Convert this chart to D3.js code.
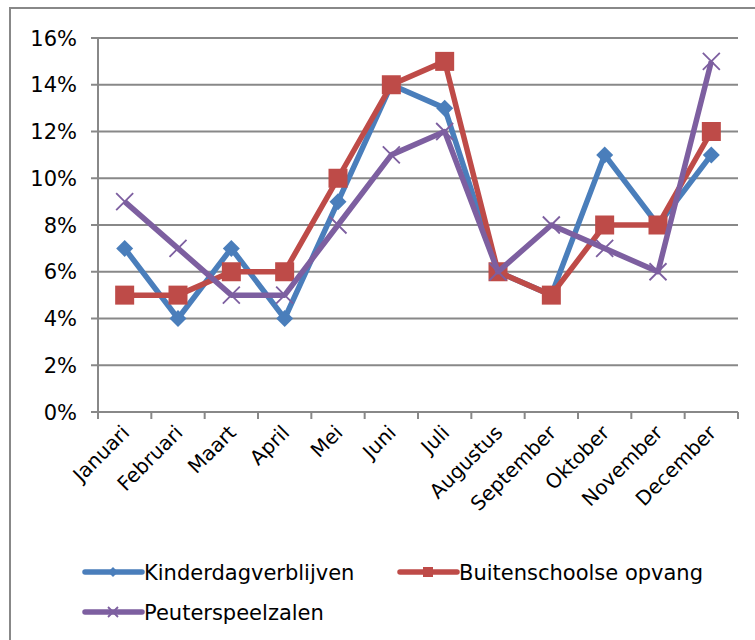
<!DOCTYPE html>
<html><head><meta charset="utf-8">
<script src="https://cdn.jsdelivr.net/npm/d3@7"></script>
<style>body{margin:0;background:#fff}svg{display:block}text{font-family:"DejaVu Sans",Verdana,sans-serif;fill:#000}</style>
</head><body>
<script>
const months = ["Januari","Februari","Maart","April","Mei","Juni","Juli","Augustus","September","Oktober","November","December"];
const kinderdag = [0.07,0.04,0.07,0.04,0.09,0.14,0.13,0.06,0.05,0.11,0.08,0.11];
const buitenschools = [0.05,0.05,0.06,0.06,0.10,0.14,0.15,0.06,0.05,0.08,0.08,0.12];
const peuters = [0.09,0.07,0.05,0.05,0.08,0.11,0.12,0.06,0.08,0.07,0.06,0.15];
const yTicks = [0,0.02,0.04,0.06,0.08,0.10,0.12,0.14,0.16];
const seriesNames = ["Kinderdagverblijven","Buitenschoolse opvang","Peuterspeelzalen"];

const series = [
  {name: seriesNames[0], values: kinderdag, color: "#4A7EBB", marker: "diamond"},
  {name: seriesNames[1], values: buitenschools, color: "#BE4B48", marker: "square"},
  {name: seriesNames[2], values: peuters, color: "#7D5FA0", marker: "x"}
];

const W = 755, H = 640;
const svg = d3.select("body").append("svg").attr("width", W).attr("height", H);
svg.append("rect").attr("x",10).attr("y",8).attr("width",760).attr("height",650)
  .attr("fill","#fff").attr("stroke","#888").attr("stroke-width",2);

const pL = 98, pR = 738, pT = 38, pB = 412;
const x = d3.scaleBand().domain(months).range([pL, pR]);
const y = d3.scaleLinear().domain([0, 0.16]).range([pB, pT]);

// gridlines
svg.append("g").selectAll("line").data(yTicks).join("line")
  .attr("x1", pL-7).attr("x2", pR).attr("y1", d=>y(d)).attr("y2", d=>y(d))
  .attr("stroke","#888").attr("stroke-width",2);
// y axis line
svg.append("line").attr("x1",pL).attr("x2",pL).attr("y1",pT).attr("y2",pB)
  .attr("stroke","#888").attr("stroke-width",2);
// y labels
svg.append("g").selectAll("text").data(yTicks).join("text")
  .attr("x", 77).attr("y", d=>y(d)).attr("dy","0.36em").attr("text-anchor","end")
  .attr("font-size",21)
  .text(d3.format(".0%"));
// x ticks
const bounds = months.map(m=>x(m)).concat([pR]);
svg.append("g").selectAll("line").data(bounds).join("line")
  .attr("x1", d=>d).attr("x2", d=>d).attr("y1", pB).attr("y2", pB+7)
  .attr("stroke","#888").attr("stroke-width",2);
// x labels
svg.append("g").selectAll("text").data(months).join("text")
  .attr("text-anchor","end").attr("font-size",20)
  .attr("transform", d=>`translate(${x(d)+x.bandwidth()/2-4},${pB+12}) rotate(-45)`)
  .attr("dy","0.7em")
  .text(d=>d);

const line = d3.line().x((d,i)=>x(months[i])+x.bandwidth()/2).y(d=>y(d));

function drawMarker(g, type, color, cx, cy, s) {
  if (type === "diamond") {
    g.append("path").attr("d", `M${cx},${cy-s}L${cx+s},${cy}L${cx},${cy+s}L${cx-s},${cy}Z`).attr("fill", color);
  } else if (type === "square") {
    g.append("rect").attr("x", cx-s).attr("y", cy-s).attr("width", 2*s).attr("height", 2*s).attr("fill", color);
  } else {
    g.append("path").attr("d", `M${cx-s},${cy-s}L${cx+s},${cy+s}M${cx-s},${cy+s}L${cx+s},${cy-s}`)
      .attr("stroke", color).attr("stroke-width", 1.8).attr("fill","none");
  }
}
const msize = {diamond: 8.5, square: 9.5, x: 8.5};

series.forEach(s => {
  const g = svg.append("g");
  g.append("path").datum(s.values).attr("d", line).attr("fill","none")
    .attr("stroke", s.color).attr("stroke-width", 5.5).attr("stroke-linejoin","round");
  s.values.forEach((v,i) => drawMarker(g, s.marker, s.color, x(months[i])+x.bandwidth()/2, y(v), msize[s.marker]));
});

// legend
const legendItems = [
  {s: series[0], x: 85, y: 572},
  {s: series[1], x: 400, y: 572},
  {s: series[2], x: 85, y: 612}
];
legendItems.forEach(it => {
  const g = svg.append("g");
  g.append("line").attr("x1", it.x).attr("x2", it.x+57).attr("y1", it.y).attr("y2", it.y)
    .attr("stroke", it.s.color).attr("stroke-width",5.5).attr("stroke-linecap","round");
  drawMarker(g, it.s.marker, it.s.color, it.x+28, it.y, 5);
  g.append("text").attr("x", it.x+59).attr("y", it.y).attr("dy","0.36em")
    .attr("font-size",21).text(it.s.name);
});
</script>
</body></html>
